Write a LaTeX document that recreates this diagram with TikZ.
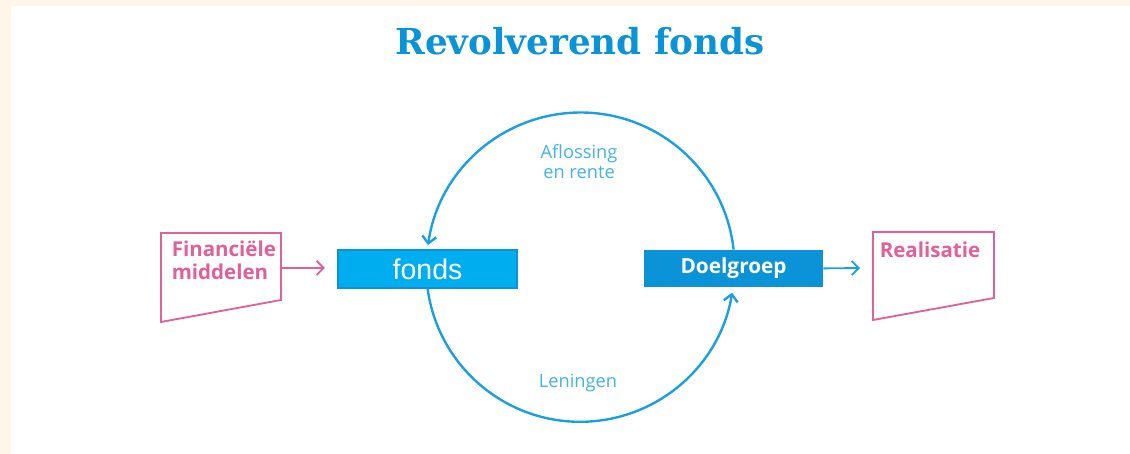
\documentclass[tikz,border=0pt]{standalone}
\usepackage{fontspec}
\setmainfont{Open Sans}
\newfontfamily\titlefont{DejaVu Serif}
\newfontfamily\arialfont{Liberation Sans}
\usetikzlibrary{arrows.meta}
\definecolor{fondsblue}{HTML}{00AEEF}
\definecolor{darkblue}{HTML}{0A93D6}
\definecolor{ringblue}{HTML}{1AA0E2}
\definecolor{lightblue}{HTML}{45B2EA}
\definecolor{rose}{HTML}{E0609A}
\definecolor{cream}{HTML}{FFF6EA}
\begin{document}
\begin{tikzpicture}[
        >={Straight Barb[length=5pt,width=10pt]},
        ring/.style={draw=ringblue,line width=1.7pt},
        roseline/.style={draw=rose,line width=1.3pt},
        bluebox/.style={minimum width=4.475cm,minimum height=0.95cm,inner sep=0pt,text=white},
        rosetext/.style={text=rose,font=\bfseries\fontsize{14.6}{16.5}\selectfont},
        looptext/.style={text=lightblue,align=center,font=\fontsize{13}{14.2}\selectfont}
    ]
        \fill[cream] (0,0) rectangle (28.25,11.35);
        \fill[white] (0.275,0) rectangle (28.25,11.2);
        \useasboundingbox (0,0) rectangle (28.25,11.35);

        \node[text=darkblue,font=\titlefont\bfseries\fontsize{25.4}{28}\selectfont] (title) at (14.5,10.33) {Revolverend fonds};

        \node[bluebox,fill=fondsblue,draw=darkblue,line width=1pt,font=\arialfont\fontsize{20.3}{22}\selectfont] (fonds) at (10.69,4.625) {fonds};
        \node[bluebox,fill=darkblue,minimum height=0.925cm,font=\bfseries\fontsize{14.8}{16}\selectfont] (doel) at (18.34,4.64) {Doelgroep};

        \draw[ring,->] (doel.north) arc[start angle=6.3,end angle=172,radius=3.85];
        \draw[ring,->] (fonds.south) arc[start angle=187.8,end angle=350.7,radius=3.85];
        \node[looptext] (aflossing) at (14.475,7.3) {Aflossing\\en rente};
        \node[looptext] (leningen) at (14.45,1.775) {Leningen};

        \coordinate (fin-tl) at (4.025,5.525);
        \coordinate (fin-tr) at (7.025,5.525);
        \coordinate (fin-br) at (7.025,3.85);
        \coordinate (fin-bl) at (4.025,3.3);
        \draw[roseline] (fin-tl) -- (fin-tr) -- (fin-br) -- (fin-bl) -- cycle;
        \node[rosetext,anchor=north west,align=left] (middelen) at (4.17,5.45) {Financiële\\middelen};
        \coordinate (fin-out) at (7.025,4.65);
        \coordinate (fin-in) at (8.125,4.65);
        \draw[roseline,->] (fin-out) -- (fin-in);

        \coordinate (real-tl) at (21.825,5.55);
        \coordinate (real-tr) at (24.85,5.55);
        \coordinate (real-br) at (24.85,3.9);
        \coordinate (real-bl) at (21.825,3.35);
        \draw[roseline] (real-tl) -- (real-tr) -- (real-br) -- (real-bl) -- cycle;
        \node[rosetext] (realisatie) at (23.25,5.1) {Realisatie};
        \coordinate (real-in) at (21.5,4.65);
        \draw[ring,line width=1.3pt,->] (doel.east) -- (real-in);
    \end{tikzpicture}
\end{document}
